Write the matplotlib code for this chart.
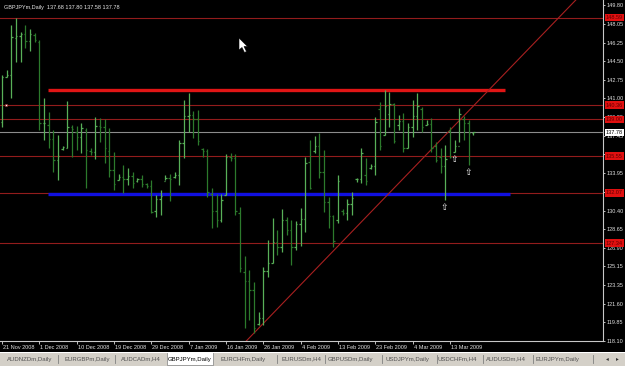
import matplotlib
matplotlib.use("Agg")
import matplotlib.pyplot as plt
from matplotlib.patches import Rectangle, Polygon
import matplotlib.transforms as mtransforms

plt.rcParams["font.family"] = ["Liberation Sans", "DejaVu Sans"]

# GBPJPYm daily bars, 21 Nov 2008 .. 19 Mar 2009
opens = [138.8, 143.0, 143.2, 146.7, 146.9, 147.1, 146.4, 147.0, 146.3, 138.7,
         138.5, 137.2, 135.2, 136.2, 136.3, 138.3, 137.8, 137.3, 138.0, 136.0,
         135.9, 138.4, 138.3, 136.0, 134.2, 133.3, 133.6, 133.4, 133.7, 133.2,
         133.4, 132.9, 132.7, 130.4, 131.5, 133.2, 133.5, 133.6, 133.8, 136.8,
         139.3, 139.4, 139.0, 136.2, 136.0, 132.0, 130.4, 129.5, 131.9, 135.5,
         135.4, 130.2, 124.6, 123.8, 122.9, 119.7, 120.3, 124.7, 125.5, 127.4,
         127.0, 129.5, 128.6, 127.0, 129.1, 129.6, 135.0, 136.0, 136.5, 134.0,
         131.2, 129.9, 129.5, 130.4, 130.2, 131.0, 133.4, 133.4, 133.8, 134.4,
         134.6, 140.0, 137.5, 139.5, 140.5, 138.5, 138.9, 136.3, 138.3, 139.3,
         140.0, 138.5, 138.6, 136.5, 135.5, 134.6, 137.9, 135.9, 136.5, 139.0,
         138.7, 137.68]
highs = [143.2, 143.7, 147.9, 148.6, 147.25, 147.9, 147.5, 147.2, 146.5, 141.0,
         139.7, 138.0, 137.5, 136.5, 140.7, 138.5, 138.4, 138.7, 138.2, 136.3,
         139.2, 139.1, 139.0, 138.2, 135.9, 133.9, 134.7, 134.4, 134.0, 133.5,
         133.8, 133.0, 133.3, 131.9, 132.3, 133.8, 133.9, 134.0, 137.1, 140.8,
         141.5, 139.8, 139.9, 136.3, 136.2, 132.5, 132.0, 132.0, 135.7, 135.8,
         135.7, 130.7, 126.1, 124.8, 123.7, 120.8, 125.1, 127.6, 129.7, 128.6,
         130.6, 129.8, 129.5, 129.4, 130.65, 135.5, 137.1, 137.4, 137.7, 136.1,
         131.7, 130.0, 133.8, 130.6, 131.5, 132.2, 133.5, 136.3, 135.4, 134.8,
         139.2, 140.65, 141.8, 141.6, 140.55, 139.4, 139.6, 138.7, 140.8, 141.5,
         140.2, 138.95, 139.1, 136.9, 136.3, 136.6, 138.3, 137.1, 140.1, 139.33,
         138.95, 137.80]
lows = [138.3, 143.0, 141.0, 144.4, 144.4, 145.7, 145.5, 146.3, 138.0, 137.1,
        136.3, 134.0, 133.3, 136.1, 136.3, 135.5, 136.1, 135.8, 132.5, 135.65,
        135.3, 136.9, 134.9, 133.6, 132.3, 133.3, 132.1, 132.8, 132.5, 133.1,
        132.6, 132.5, 130.2, 129.8, 130.0, 133.3, 131.3, 133.5, 132.8, 135.4,
        137.8, 137.25, 136.6, 135.5, 131.7, 128.8, 128.9, 129.3, 131.9, 135.1,
        130.0, 124.6, 119.3, 120.1, 118.85, 119.6, 119.6, 124.1, 125.5, 126.2,
        126.5, 128.1, 125.3, 126.7, 127.1, 128.4, 132.4, 135.8, 133.5, 130.3,
        128.8, 127.0, 129.2, 130.0, 129.5, 130.0, 133.1, 133.0, 132.8, 134.3,
        133.8, 136.1, 137.5, 138.3, 136.8, 138.0, 135.9, 136.3, 137.3, 138.0,
        137.8, 138.5, 135.9, 135.0, 133.95, 131.4, 135.4, 135.9, 136.9, 137.06,
        134.7, 137.58]
closes = [143.0, 143.2, 146.8, 146.9, 147.1, 146.4, 147.1, 146.5, 138.7, 138.7,
          137.2, 135.2, 135.6, 136.4, 138.3, 138.1, 137.35, 138.2, 136.1, 135.9,
          138.4, 138.3, 136.3, 134.2, 132.9, 133.6, 133.4, 133.7, 133.0, 133.4,
          132.9, 132.7, 130.3, 131.5, 131.8, 133.5, 133.4, 133.8, 136.8, 139.3,
          139.4, 139.0, 137.0, 136.0, 132.2, 130.4, 129.5, 131.4, 135.5, 135.4,
          130.4, 125.0, 123.8, 122.9, 119.3, 120.3, 124.7, 125.5, 127.4, 127.0,
          129.5, 128.6, 127.0, 129.1, 129.6, 134.9, 132.5, 136.5, 134.0, 131.2,
          129.9, 127.5, 133.2, 130.2, 131.0, 131.6, 133.4, 135.8, 133.2, 134.6,
          138.8, 136.5, 140.3, 140.5, 137.0, 138.9, 136.3, 138.3, 139.3, 140.3,
          138.3, 138.6, 136.3, 135.2, 134.6, 135.3, 135.5, 136.5, 139.5, 138.7,
          137.7, 137.78]

date_ticks = [0, 8, 16, 24, 32, 40, 48, 56, 64, 72, 80, 88, 96]
date_labels = ["21 Nov 2008", "1 Dec 2008", "10 Dec 2008", "19 Dec 2008",
               "29 Dec 2008", "7 Jan 2009", "16 Jan 2009", "26 Jan 2009",
               "4 Feb 2009", "13 Feb 2009", "23 Feb 2009", "4 Mar 2009",
               "13 Mar 2009"]
price_ticks = [149.80, 148.05, 146.25, 144.50, 142.75, 141.00, 139.20, 137.45,
               135.70, 133.95, 132.20, 130.40, 128.65, 126.90, 125.15, 123.35,
               121.60, 119.85, 118.10]

# chart objects
h_levels = [148.59, 140.36, 139.00, 135.55, 132.07, 127.34]
last_price = 137.78
resistance = 141.78
support = 131.97
zone_from, res_to, sup_to = 9.9, 107.8, 108.9
trend_x = [54, 90]
trend_y = [118.85, 135.25]
arrow_bars = [95, 97, 100]

tabs = ["AUDNZDm,Daily", "EURGBPm,Daily", "AUDCADm,H4", "GBPJPYm,Daily",
        "EURCHFm,Daily", "EURUSDm,H4", "GBPUSDm,Daily", "USDJPYm,Daily",
        "USDCHFm,H4", "AUDUSDm,H4", "EURJPYm,Daily"]
tab_centers = [30, 87, 141, 190, 243, 301, 350, 407, 457, 506, 557]
tab_seps = [58, 115, 277, 325, 382, 437, 483, 533, 593]
active = 3

W, H = 625, 366
fig = plt.figure(figsize=(W / 100, H / 100), dpi=100, facecolor="black")
ax = fig.add_axes([0, (H - 341) / H, 603 / W, 341 / H], facecolor="black")
ax.set_xlim(-0.43, 128.8)
ax.set_ylim(118.10, 150.27)

# horizontal lines
for lv in h_levels:
    ax.axhline(lv, color="#921c1c", lw=0.8, zorder=1)
ax.axhline(last_price, color="#8c8c8c", lw=0.8, zorder=1)
ax.hlines(resistance, zone_from, res_to, color="#e01515", lw=2.4, zorder=2)
ax.hlines(support, zone_from, sup_to, color="#1010e0", lw=2.4, zorder=2)
ax.axline((trend_x[0], trend_y[0]), (trend_x[1], trend_y[1]),
          color="#a82020", lw=0.8, zorder=2)

# OHLC bars
up_col, dn_col = "#58b058", "#2c7a2c"
for i in range(len(opens)):
    c = up_col if closes[i] >= opens[i] else dn_col
    ax.vlines(i, lows[i], highs[i], color=c, lw=0.9, zorder=3)
    ax.hlines(opens[i], i - 0.32, i, color=c, lw=0.9, zorder=3)
    ax.hlines(closes[i], i, i + 0.32, color=c, lw=0.9, zorder=3)

for b in arrow_bars:
    ax.annotate("\u21e7", (b, lows[b]), xytext=(-0.5, -5.2),
                textcoords="offset points", ha="center", va="center",
                color="white", fontsize=6.5, zorder=4, family="DejaVu Sans")

ax.plot([0.9], [h_levels[1]], marker="s", ms=2, mfc="white", mec="#921c1c",
        mew=0.4, zorder=4)

# axes styling
for s in ["top", "left"]:
    ax.spines[s].set_visible(False)
ax.spines["right"].set_color("#c8c8c8")
ax.spines["bottom"].set_color("#c8c8c8")
ax.spines["right"].set_linewidth(0.8)
ax.spines["bottom"].set_linewidth(0.8)
ax.yaxis.tick_right()
ax.set_yticks(price_ticks)
ax.set_yticklabels([f"{p:.2f}" for p in price_ticks])
ax.set_xticks(date_ticks)
ax.set_xticklabels(date_labels, ha="left")
ax.tick_params(axis="y", colors="#e0e0e0", labelsize=4.0, length=1.6,
               width=0.6, pad=1.2)
ax.tick_params(axis="x", colors="#e0e0e0", labelsize=4.0, length=1.8,
               width=0.6, pad=1.0)
offs = mtransforms.ScaledTranslation(1 / 100, 0, fig.dpi_scale_trans)
for t in ax.get_xticklabels():
    t.set_transform(t.get_transform() + offs)

# price labels of the lines on the right scale
trans = mtransforms.blended_transform_factory(ax.transAxes, ax.transData)
for lv in h_levels:
    ax.text(1.005, lv, f"{lv:.2f}", transform=trans, ha="left", va="center",
            fontsize=4.0, color="#600000", clip_on=False, zorder=10,
            bbox=dict(boxstyle="square,pad=0.2", fc="#e01010", ec="none"))
ax.text(1.005, last_price, f"{last_price:.2f}", transform=trans, ha="left",
        va="center", fontsize=4.0, color="black", clip_on=False, zorder=11,
        bbox=dict(boxstyle="square,pad=0.2", fc="white", ec="none"))

# window caption
ax.text(0.006, 0.985, "GBPJPYm,Daily  137.68 137.80 137.58 137.78",
        transform=ax.transAxes, ha="left", va="top", fontsize=4.0,
        color="#e8e8e8", zorder=10)

# tab strip
tb = fig.add_axes([0, 0, 1, 14 / H], facecolor="#d4d0c8")
tb.set_xlim(0, W)
tb.set_ylim(14, 0)
tb.axis("off")
tb.add_patch(Rectangle((0, 0), W, 14, fc="#d4d0c8", ec="none"))
tb.plot([0, W], [0.4, 0.4], color="white", lw=0.8)
tb.add_patch(Rectangle((167, 0), 46, 12.5, fc="white", ec="#808080", lw=0.5))
for k, (name, cx) in enumerate(zip(tabs, tab_centers)):
    tb.text(cx, 7, name, ha="center", va="center", fontsize=4.3,
            color="black" if k == active else "#505050")
for sx in tab_seps:
    tb.plot([sx, sx], [3, 11], color="#808080", lw=0.6)
tb.text(607, 7, "\u25c2", ha="center", va="center", fontsize=4,
        color="#303030", family="DejaVu Sans")
tb.text(617, 7, "\u25b8", ha="center", va="center", fontsize=4,
        color="#303030", family="DejaVu Sans")

# mouse pointer
ov = fig.add_axes([0, 0, 1, 1], facecolor="none")
ov.set_xlim(0, W)
ov.set_ylim(H, 0)
ov.axis("off")
ov.add_patch(Polygon([(239, 38), (239, 50), (242, 47.5), (244.5, 52.5),
                      (246.5, 51.5), (244, 46.5), (247.5, 46.5)],
                     closed=True, fc="white", ec="black", lw=0.4))

fig.savefig("out.png", dpi=100, facecolor="black")
